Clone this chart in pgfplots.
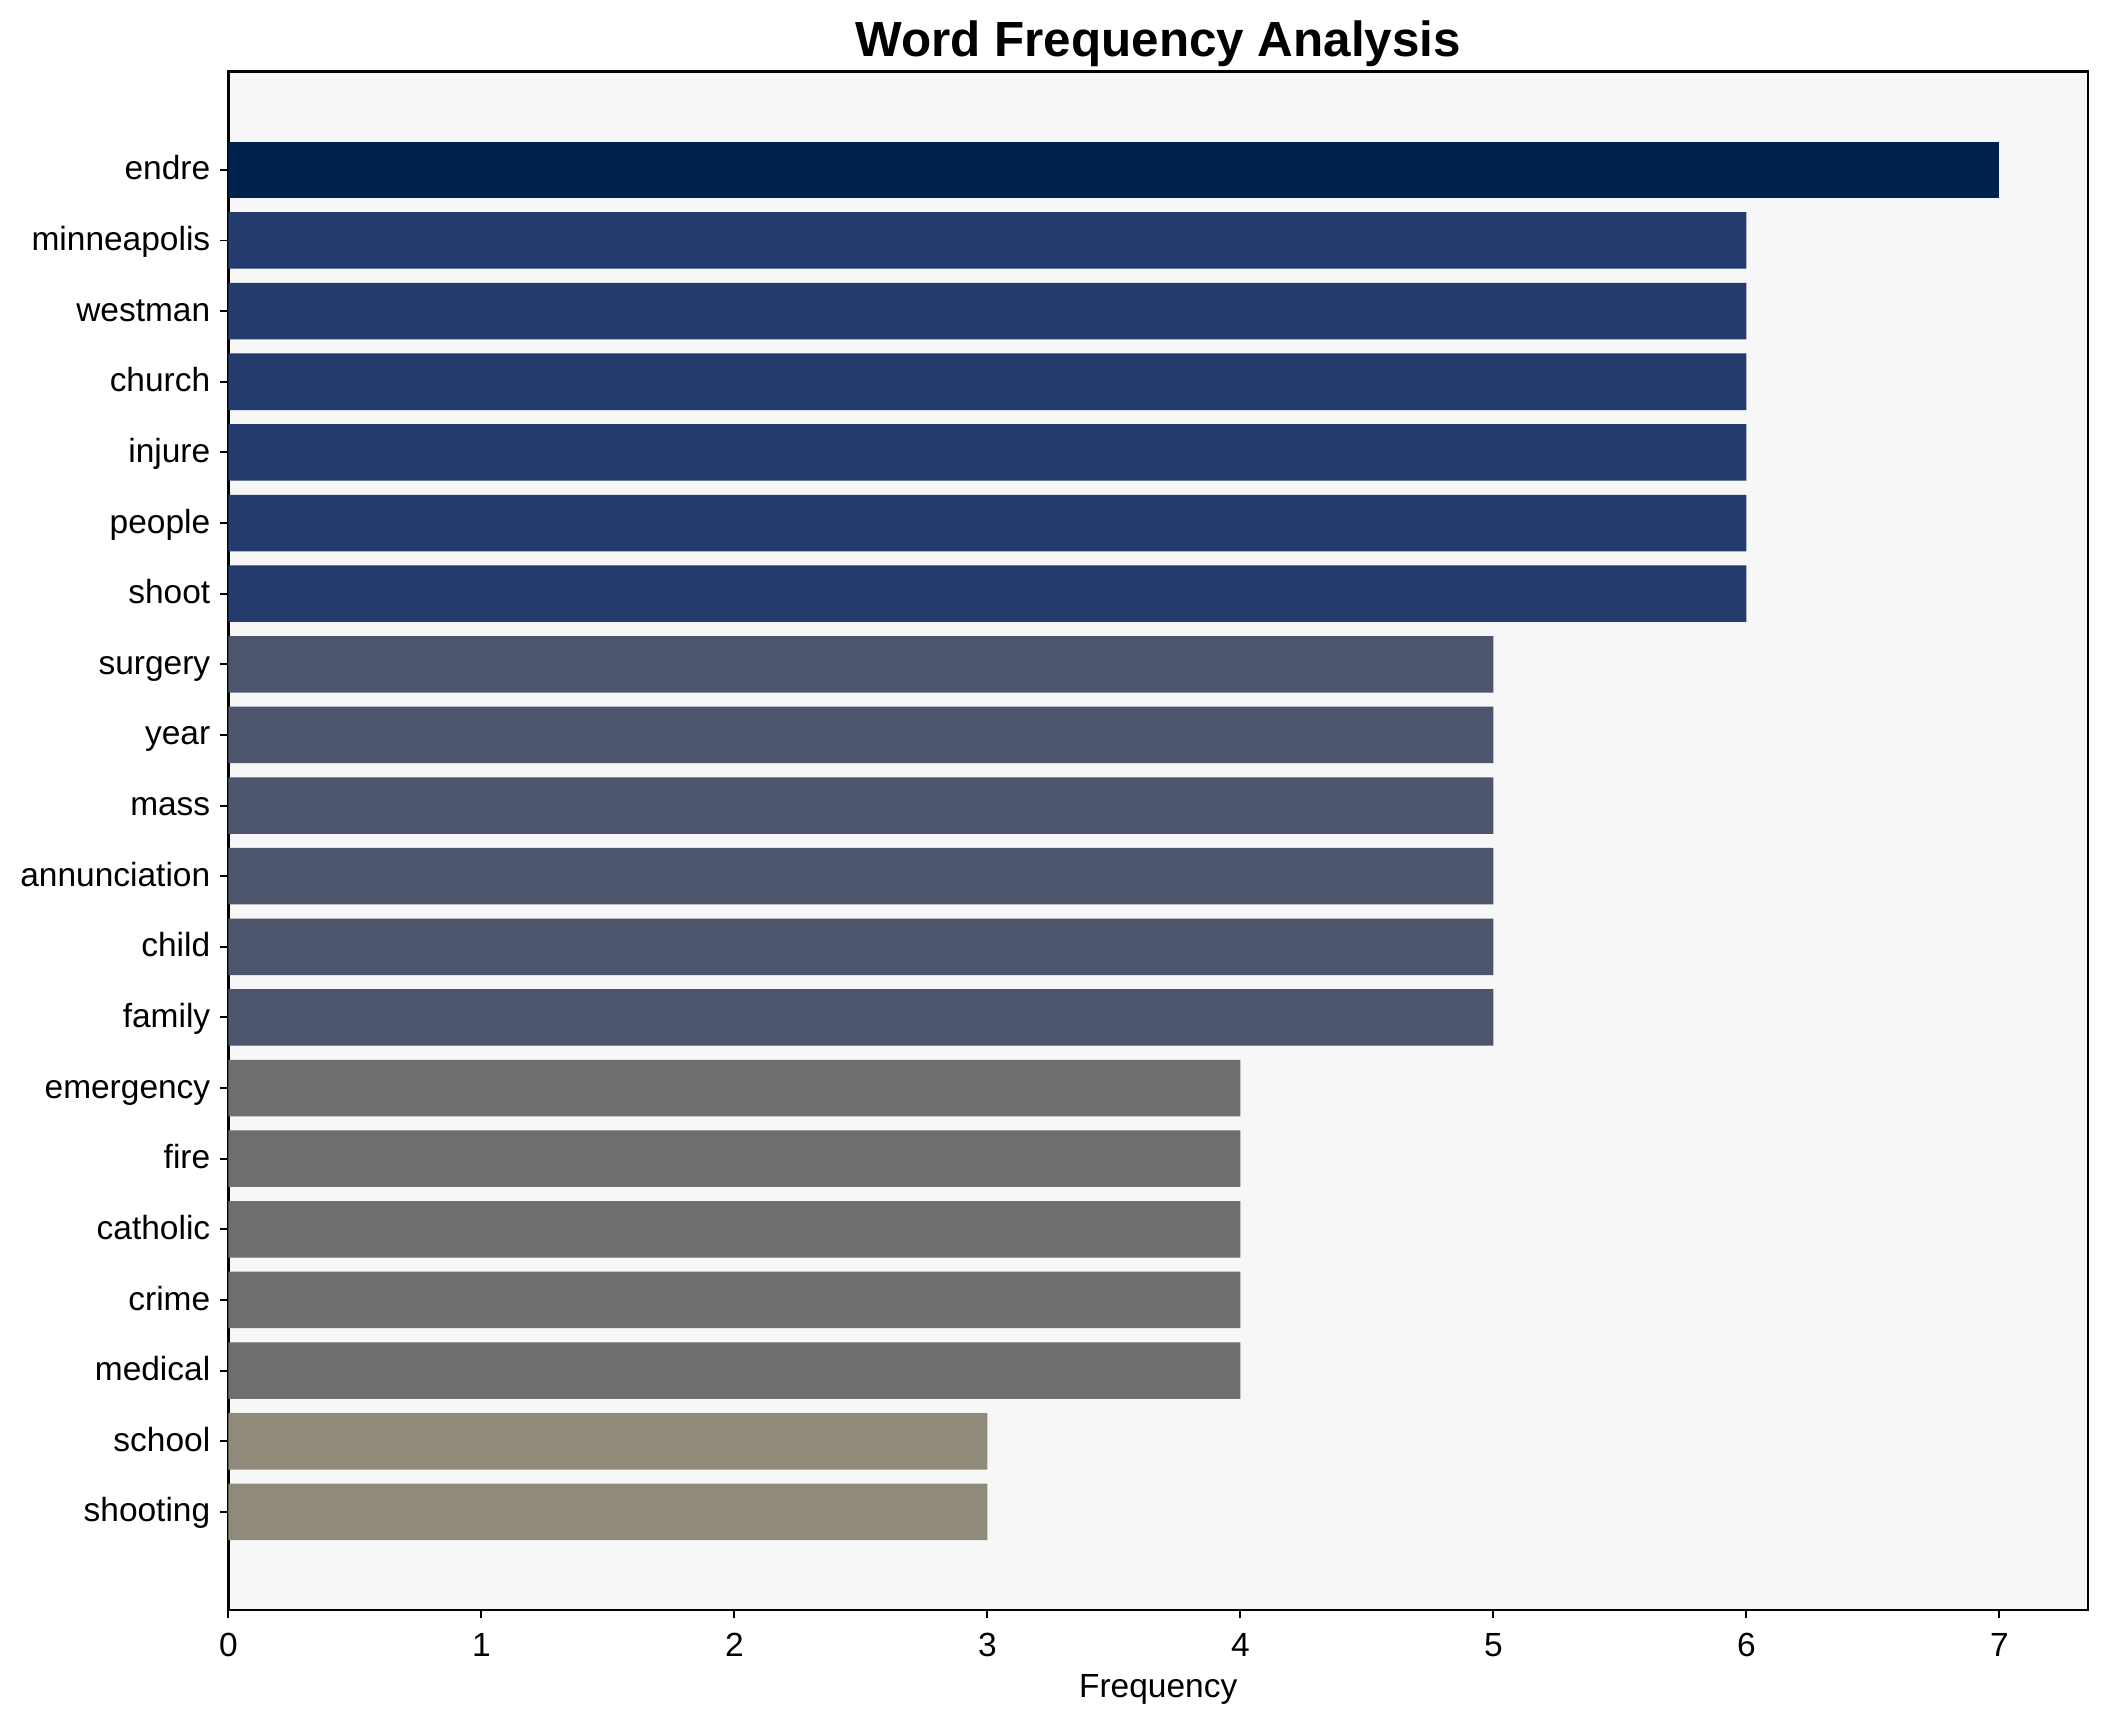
\documentclass[border=0pt]{standalone}
\usepackage{fontspec}
\setmainfont{Liberation Sans}
\usepackage{pgfplots}
\pgfplotsset{compat=1.18}
\usetikzlibrary{calc}

\definecolor{c7}{HTML}{00224E}
\definecolor{c6}{HTML}{233B6D}
\definecolor{c5}{HTML}{4C556C}
\definecolor{c4}{HTML}{6E6E71}
\definecolor{c3}{HTML}{8F8A79}
\definecolor{bgc}{HTML}{F7F7F7}

\begin{document}
\begin{tikzpicture}
\begin{axis}[
    scale only axis,
    width=666.6pt, height=551.5pt,
    xmin=0, xmax=7.35,
    ymin=-1.39, ymax=20.39,
    axis background/.style={fill=bgc},
    axis line style={line width=1pt},
    xtick={0,1,2,3,4,5,6,7},
    ytick={0,1,...,19},
    yticklabels={shooting,school,medical,crime,catholic,fire,emergency,family,child,annunciation,mass,year,surgery,shoot,people,injure,church,westman,minneapolis,endre},
    tick align=outside,
    major tick length=3pt,
    tick style={black, line width=0.7pt},
    xtick pos=bottom, ytick pos=left,
    ticklabel style={font=\fontsize{12}{14}\selectfont, text height=9.8pt, text depth=2.6pt},
    xticklabel style={yshift=-1.5pt, text height=8.6pt},
    /pgf/number format/assume math mode=true,
    xlabel={Frequency},
    xlabel style={font=\fontsize{12}{14}\selectfont, yshift=3pt},
    title={Word Frequency Analysis},
    title style={at={(0.5,1)}, anchor=base, yshift=-0.5pt, font=\fontsize{17.7}{20}\selectfont\bfseries},
    xbar, bar width=0.8, bar shift=0pt,
]
\addplot[draw=none, fill=c7] coordinates {(7,19)};
\addplot[draw=none, fill=c6] coordinates {(6,18) (6,17) (6,16) (6,15) (6,14) (6,13)};
\addplot[draw=none, fill=c5] coordinates {(5,12) (5,11) (5,10) (5,9) (5,8) (5,7)};
\addplot[draw=none, fill=c4] coordinates {(4,6) (4,5) (4,4) (4,3) (4,2)};
\addplot[draw=none, fill=c3] coordinates {(3,1) (3,0)};
\end{axis}
\pgfresetboundingbox
\path ($(current axis.south west)+(-81.9pt,-40.5pt)$) rectangle ($(current axis.north east)+(7.2pt,25.7pt)$);
\end{tikzpicture}
\end{document}
